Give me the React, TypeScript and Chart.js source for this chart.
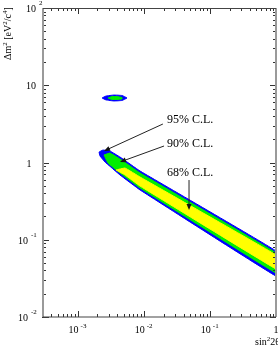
import React, { useEffect, useRef } from 'react';
import { Chart, registerables } from 'chart.js';

Chart.register(...registerables);

// ---- data (sin^2 2θ , Δm^2 [eV^2/c^4]) ----
// 95% C.L. allowed band (top edge left→right, then bottom edge right→left)
const cl95X = [2.11e-3, 2.42e-3, 3.09e-3, 4.38e-3, 8.79e-3, 1.0, 1.0, 8.79e-3, 4.38e-3, 2.6e-3, 2.18e-3];
const cl95Y = [1.367, 1.451, 1.409, 1.178, 0.776, 0.0715, 0.0339, 0.441, 0.689, 1.015, 1.214];
// 90% C.L.
const cl90X = [2.51e-3, 3.09e-3, 4.38e-3, 8.79e-3, 1.0, 1.0, 8.79e-3, 4.38e-3, 2.88e-3];
const cl90Y = [1.251, 1.327, 1.11, 0.731, 0.0674, 0.0371, 0.468, 0.731, 0.985];
// 68% C.L.
const cl68X = [3.81e-3, 5.21e-3, 8.79e-3, 1.0, 1.0, 8.79e-3, 5.21e-3];
const cl68Y = [0.8, 0.849, 0.649, 0.0635, 0.0418, 0.496, 0.69];
// small island near Δm^2 ≈ 7 eV^2
const island95X = [2.34e-3, 2.69e-3, 3.56e-3, 4.7e-3, 5.59e-3, 4.7e-3, 3.56e-3, 2.69e-3];
const island95Y = [6.84, 7.26, 7.48, 7.37, 6.84, 6.35, 6.25, 6.45];
const island90X = [2.88e-3, 3.31e-3, 3.94e-3, 4.7e-3, 4.7e-3, 3.94e-3, 3.31e-3];
const island90Y = [6.84, 7.15, 7.15, 6.94, 6.64, 6.54, 6.54];

// ---- axes ----
const xMin = 3e-4;
const xMax = 1;
const yMin = 1e-2;
const yMax = 1e2;
const xTickValues = [1e-3, 1e-2, 1e-1, 1];
const xTickBase = ['10', '10', '10', '1'];
const xTickExp = ['-3', '-2', '-1', ''];
const yTickValues = [1e-2, 1e-1, 1, 10, 100];
const yTickBase = ['10', '10', '1', '10', '10'];
const yTickExp = ['-2', '-1', '', '', '2'];

// ---- annotations ----
const annText = ['95% C.L.', '90% C.L.', '68% C.L.'];
const annX = [0.0225, 0.0225, 0.0225];
const annY = [3.55, 1.736, 0.731];
const arrowFromX = [0.0195, 0.0203, 0.0484];
const arrowFromY = [3.15, 1.635, 0.593];
const arrowToX = [2.51e-3, 4.38e-3, 0.0484];
const arrowToY = [1.409, 1.015, 0.243];

const BLUE = '#0000ff';
const GREEN = '#00ee00';
const YELLOW = '#ffff00';

const FONT = '"Liberation Serif", "Times New Roman", serif';
const font = (px: number) => `${px}px ${FONT}`;

type Run = { t: string; sup?: boolean };

function drawRuns(ctx: CanvasRenderingContext2D, runs: Run[], x: number, y: number, size: number, supSize: number, rise: number) {
  let cx = x;
  for (const r of runs) {
    ctx.font = font(r.sup ? supSize : size);
    ctx.fillText(r.t, cx, r.sup ? y - rise : y);
    cx += ctx.measureText(r.t).width;
  }
  return cx;
}

function poly(xs: number[], ys: number[], color: string) {
  const pts = xs.map((x, i) => ({ x, y: ys[i] }));
  pts.push({ x: xs[0], y: ys[0] });
  return {
    data: pts,
    backgroundColor: color,
    borderColor: color,
    borderWidth: 1,
    fill: 'shape',
    pointRadius: 0,
    tension: 0.05,
  };
}

const overlay = {
  id: 'overlay',
  afterDatasetsDraw(chart: any) {
    const ctx: CanvasRenderingContext2D = chart.ctx;
    const xs = chart.scales.x;
    const ys = chart.scales.y;
    const { left, right, top, bottom } = chart.chartArea;
    ctx.save();

    // tick marks (inward, all four sides)
    ctx.strokeStyle = '#333';
    ctx.lineWidth = 1;
    for (let d = -4; d <= 0; d++) {
      for (let m = 1; m <= 9; m++) {
        const v = m * Math.pow(10, d);
        if (v < xMin * 0.999 || v > xMax * 1.001) continue;
        const px = Math.round(xs.getPixelForValue(v)) + 0.5;
        const len = m === 1 ? 6 : 3;
        ctx.beginPath();
        ctx.moveTo(px, bottom);
        ctx.lineTo(px, bottom - len);
        ctx.moveTo(px, top);
        ctx.lineTo(px, top + len);
        ctx.stroke();
      }
    }
    for (let d = -2; d <= 2; d++) {
      for (let m = 1; m <= 9; m++) {
        const v = m * Math.pow(10, d);
        if (v < yMin * 0.999 || v > yMax * 1.001) continue;
        const py = Math.round(ys.getPixelForValue(v)) + 0.5;
        const len = m === 1 ? 6 : 3;
        ctx.beginPath();
        ctx.moveTo(m === 1 ? left - 1 : left, py);
        ctx.lineTo(left + len, py);
        ctx.moveTo(right, py);
        ctx.lineTo(right - len, py);
        ctx.stroke();
      }
    }

    // frame
    ctx.strokeStyle = '#9a9a9a';
    ctx.lineWidth = 2;
    ctx.beginPath();
    ctx.moveTo(left, top);
    ctx.lineTo(left, bottom);
    ctx.moveTo(right, top);
    ctx.lineTo(right, bottom);
    ctx.stroke();
    ctx.strokeStyle = '#444';
    ctx.lineWidth = 1.2;
    ctx.beginPath();
    ctx.moveTo(left, top + 0.5);
    ctx.lineTo(right, top + 0.5);
    ctx.moveTo(left, bottom);
    ctx.lineTo(right, bottom);
    ctx.stroke();

    // tick labels
    ctx.fillStyle = '#000';
    ctx.textAlign = 'left';
    ctx.textBaseline = 'alphabetic';
    yTickValues.forEach((v, i) => {
      const py = ys.getPixelForValue(v);
      const base = yTickBase[i];
      const exp = yTickExp[i];
      ctx.font = font(10);
      const bw = ctx.measureText(base).width;
      const baseRight = exp.startsWith('-') ? 28 : base === '1' ? 31.5 : 36;
      ctx.fillText(base, baseRight - bw, py + 4);
      if (exp) {
        ctx.font = font(7);
        ctx.fillText(exp, baseRight + 3, py - 3);
      }
    });
    xTickValues.forEach((v, i) => {
      const px = xs.getPixelForValue(v);
      const base = xTickBase[i];
      const exp = xTickExp[i];
      ctx.font = font(10);
      const bw = ctx.measureText(base).width;
      if (exp) {
        ctx.fillText(base, px + 1 - bw, 333);
        ctx.font = font(7);
        ctx.fillText(exp, px + 3, 328);
      } else {
        ctx.fillText(base, px - bw / 2, 333);
      }
    });

    // axis titles
    drawRuns(ctx, [{ t: 'sin' }, { t: '2', sup: true }, { t: '2θ' }], 255, 345, 10, 7, 4);
    ctx.save();
    ctx.translate(11, 60);
    ctx.rotate(-Math.PI / 2);
    drawRuns(
      ctx,
      [{ t: 'Δm' }, { t: '2', sup: true }, { t: ' [eV' }, { t: '2', sup: true }, { t: '/c' }, { t: '4', sup: true }, { t: ']' }],
      0,
      0,
      10,
      7,
      4
    );
    ctx.restore();

    // annotations
    ctx.font = font(12);
    ctx.textBaseline = 'middle';
    annText.forEach((t, i) => {
      ctx.fillStyle = '#000';
      ctx.fillText(t, xs.getPixelForValue(annX[i]), ys.getPixelForValue(annY[i]));
      const x0 = xs.getPixelForValue(arrowFromX[i]);
      const y0 = ys.getPixelForValue(arrowFromY[i]);
      const x1 = xs.getPixelForValue(arrowToX[i]);
      const y1 = ys.getPixelForValue(arrowToY[i]);
      const ang = Math.atan2(y1 - y0, x1 - x0);
      const hl = 6;
      const hw = 2.5;
      ctx.strokeStyle = '#222';
      ctx.lineWidth = 1;
      ctx.beginPath();
      ctx.moveTo(x0, y0);
      ctx.lineTo(x1 - Math.cos(ang) * hl * 0.8, y1 - Math.sin(ang) * hl * 0.8);
      ctx.stroke();
      ctx.fillStyle = '#111';
      ctx.beginPath();
      ctx.moveTo(x1, y1);
      ctx.lineTo(x1 - Math.cos(ang) * hl - Math.sin(ang) * hw, y1 - Math.sin(ang) * hl + Math.cos(ang) * hw);
      ctx.lineTo(x1 - Math.cos(ang) * hl + Math.sin(ang) * hw, y1 - Math.sin(ang) * hl - Math.cos(ang) * hw);
      ctx.closePath();
      ctx.fill();
    });

    ctx.restore();
  },
};

export default function App() {
  const ref = useRef<HTMLCanvasElement>(null);
  useEffect(() => {
    if (!ref.current) return;
    const chart = new Chart(ref.current, {
      type: 'line',
      data: {
        datasets: [
          poly(cl68X, cl68Y, YELLOW),
          poly(cl90X, cl90Y, GREEN),
          poly(island90X, island90Y, GREEN),
          poly(cl95X, cl95Y, BLUE),
          poly(island95X, island95Y, BLUE),
        ] as any,
      },
      options: {
        animation: false,
        responsive: false,
        events: [],
        layout: { padding: { left: 43, top: 8, right: 2, bottom: 29 } },
        plugins: {
          legend: { display: false },
          tooltip: { enabled: false },
        },
        scales: {
          x: { type: 'logarithmic', min: xMin, max: xMax, display: false },
          y: { type: 'logarithmic', min: yMin, max: yMax, display: false },
        },
      },
      plugins: [overlay],
    });
    return () => chart.destroy();
  }, []);
  return (
    <div style={{ position: 'absolute', left: 0, top: 0, width: 278, height: 346, background: '#fff' }}>
      <canvas ref={ref} width={278} height={346} style={{ display: 'block', width: 278, height: 346 }} />
    </div>
  );
}
